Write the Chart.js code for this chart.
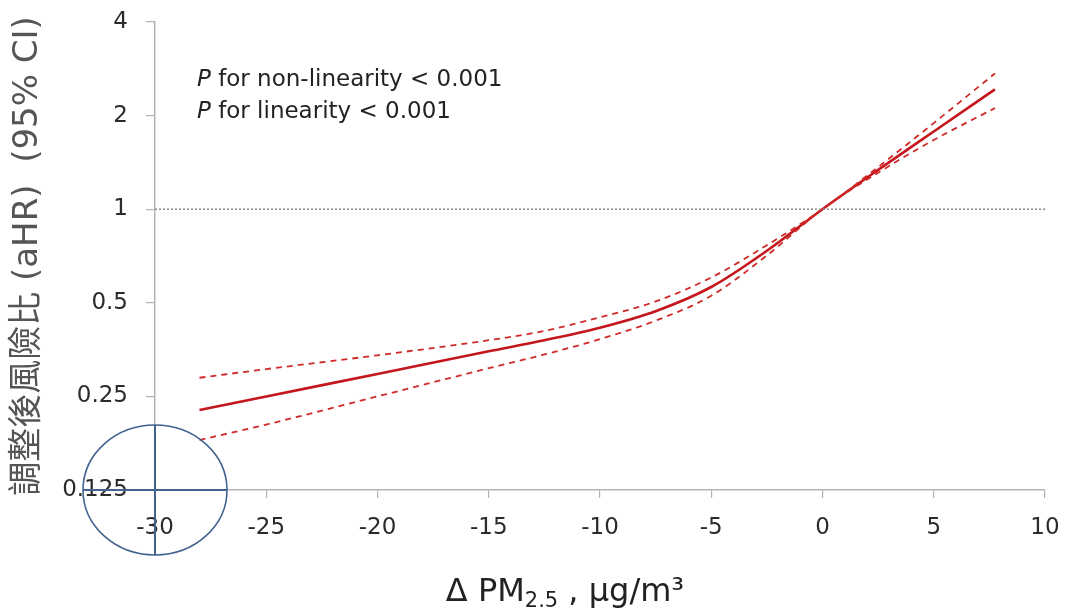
<!DOCTYPE html>
<html>
<head>
<meta charset="utf-8">
<script src="https://cdn.jsdelivr.net/npm/chart.js@4.4.1/dist/chart.umd.min.js"></script>
<style>
  html, body { margin: 0; padding: 0; background: #fff; }
</style>
</head>
<body>
<canvas id="hrChart" width="1067" height="615"></canvas>
<script>
// 數據：ΔPM2.5 與調整後風險比
const deltaPM = [-28, -25, -20, -15, -12.5, -10, -7.5, -5, -2.5, 0, 2.5, 5, 7.75];
const aHR     = [0.226, 0.25, 0.295, 0.349, 0.379, 0.416, 0.47, 0.562, 0.735, 1, 1.338, 1.778, 2.428];
const ciUpper = [0.287, 0.306, 0.339, 0.379, 0.406, 0.449, 0.505, 0.603, 0.766, 1, 1.366, 1.892, 2.732];
const ciLower = [0.181, 0.203, 0.25, 0.308, 0.341, 0.382, 0.438, 0.527, 0.71, 1, 1.31, 1.67, 2.114];

const refX = [-30, 10];
const refY = [1, 1];

const xTicks = [-30, -25, -20, -15, -10, -5, 0, 5, 10];
const yTicks = [0.125, 0.25, 0.5, 1, 2, 4];

const noteLines = ['for non-linearity < 0.001', 'for linearity < 0.001'];
const yTitle = '調整後風險比 (aHR)  (95% CI)';

const FONT = "'DejaVu Sans', 'Noto Sans CJK TC', sans-serif";

function toPoints(xs, ys) {
  return xs.map((x, i) => ({ x: x, y: ys[i] }));
}

// 註記：P 值、x 軸標題、圓圈
const extras = {
  id: 'extras',
  afterDraw(chart) {
    const ctx = chart.ctx;
    const xs = chart.scales.x, ys = chart.scales.y;
    const area = chart.chartArea;
    ctx.save();

    // P values
    ctx.fillStyle = '#222';
    ctx.textBaseline = 'alphabetic';
    noteLines.forEach((t, i) => {
      const bx = area.left + 42, by = 86 + i * 32;
      ctx.font = "italic 23px " + FONT;
      ctx.fillText('P', bx, by);
      const w = ctx.measureText('P ').width;
      ctx.font = "23px " + FONT;
      ctx.fillText(t, bx + w, by);
    });

    // x axis title with subscript
    ctx.fillStyle = '#222';
    const main1 = '\u0394 PM', sub = '2.5', main2 = ' , \u00b5g/m\u00b3';
    ctx.font = "32px " + FONT;
    const w1 = ctx.measureText(main1).width;
    const w3 = ctx.measureText(main2).width;
    ctx.font = "21px " + FONT;
    const w2 = ctx.measureText(sub).width;
    let tx = 565 - (w1 + w2 + w3) / 2;
    const ty = 601;
    ctx.font = "32px " + FONT;
    ctx.fillText(main1, tx, ty);
    tx += w1;
    ctx.font = "21px " + FONT;
    ctx.fillText(sub, tx, ty + 6);
    tx += w2;
    ctx.font = "32px " + FONT;
    ctx.fillText(main2, tx, ty);

    // circle round the origin
    const cx = xs.getPixelForValue(-30), cy = ys.getPixelForValue(0.125);
    ctx.strokeStyle = '#42628f';
    ctx.lineWidth = 1.6;
    ctx.beginPath();
    ctx.ellipse(cx, cy, 72, 65, 0, 0, Math.PI * 2);
    ctx.stroke();
    ctx.lineWidth = 2;
    ctx.beginPath();
    ctx.moveTo(cx, cy - 65); ctx.lineTo(cx, cy + 65);
    ctx.moveTo(cx - 72, cy); ctx.lineTo(cx + 72, cy);
    ctx.stroke();

    ctx.restore();
  }
};

new Chart(document.getElementById('hrChart'), {
  type: 'line',
  data: {
    datasets: [
      {
        label: 'ref',
        data: toPoints(refX, refY),
        borderColor: '#8c8c8c',
        borderWidth: 1.5,
        borderDash: [2, 2],
        pointRadius: 0
      },
      {
        label: 'upper',
        data: toPoints(deltaPM, ciUpper),
        borderColor: '#cf2a27',
        borderWidth: 1.8,
        borderDash: [6, 5],
        pointRadius: 0,
        cubicInterpolationMode: 'monotone'
      },
      {
        label: 'lower',
        data: toPoints(deltaPM, ciLower),
        borderColor: '#cf2a27',
        borderWidth: 1.8,
        borderDash: [6, 5],
        pointRadius: 0,
        cubicInterpolationMode: 'monotone'
      },
      {
        label: 'aHR',
        data: toPoints(deltaPM, aHR),
        borderColor: '#c4161c',
        borderWidth: 2.6,
        pointRadius: 0,
        cubicInterpolationMode: 'monotone'
      }
    ]
  },
  options: {
    responsive: false,
    animation: false,
    layout: { padding: { top: 22, right: 22, left: 0, bottom: 0 } },
    plugins: {
      legend: { display: false },
      tooltip: { enabled: false }
    },
    scales: {
      x: {
        type: 'linear',
        min: -30,
        max: 10,
        afterBuildTicks: s => { s.ticks = xTicks.map(v => ({ value: v })); },
        afterFit: s => { s.height = 125; s.paddingLeft = 0; s.paddingRight = 0; },
        border: { color: '#b3b3b3', width: 1.5 },
        grid: { drawOnChartArea: false, tickLength: 8, color: '#b3b3b3', lineWidth: 1.2 },
        ticks: { padding: 16, color: '#2b2b2b', font: { family: FONT, size: 23 } }
      },
      y: {
        type: 'logarithmic',
        min: 0.125,
        max: 4,
        afterBuildTicks: s => { s.ticks = yTicks.map(v => ({ value: v })); },
        afterFit: s => { s.width = 155; s.paddingTop = 0; s.paddingBottom = 0; },
        border: { color: '#b3b3b3', width: 1.5 },
        grid: { drawOnChartArea: false, tickLength: 9, color: '#b3b3b3', lineWidth: 1.2 },
        ticks: {
          padding: 18,
          color: '#2b2b2b',
          font: { family: FONT, size: 23 },
          callback: v => String(v)
        },
        title: {
          display: true,
          text: yTitle,
          color: '#555',
          padding: { top: 8, bottom: 0 },
          font: { family: FONT, size: 34 }
        }
      }
    }
  },
  plugins: [extras]
});
</script>
</body>
</html>
